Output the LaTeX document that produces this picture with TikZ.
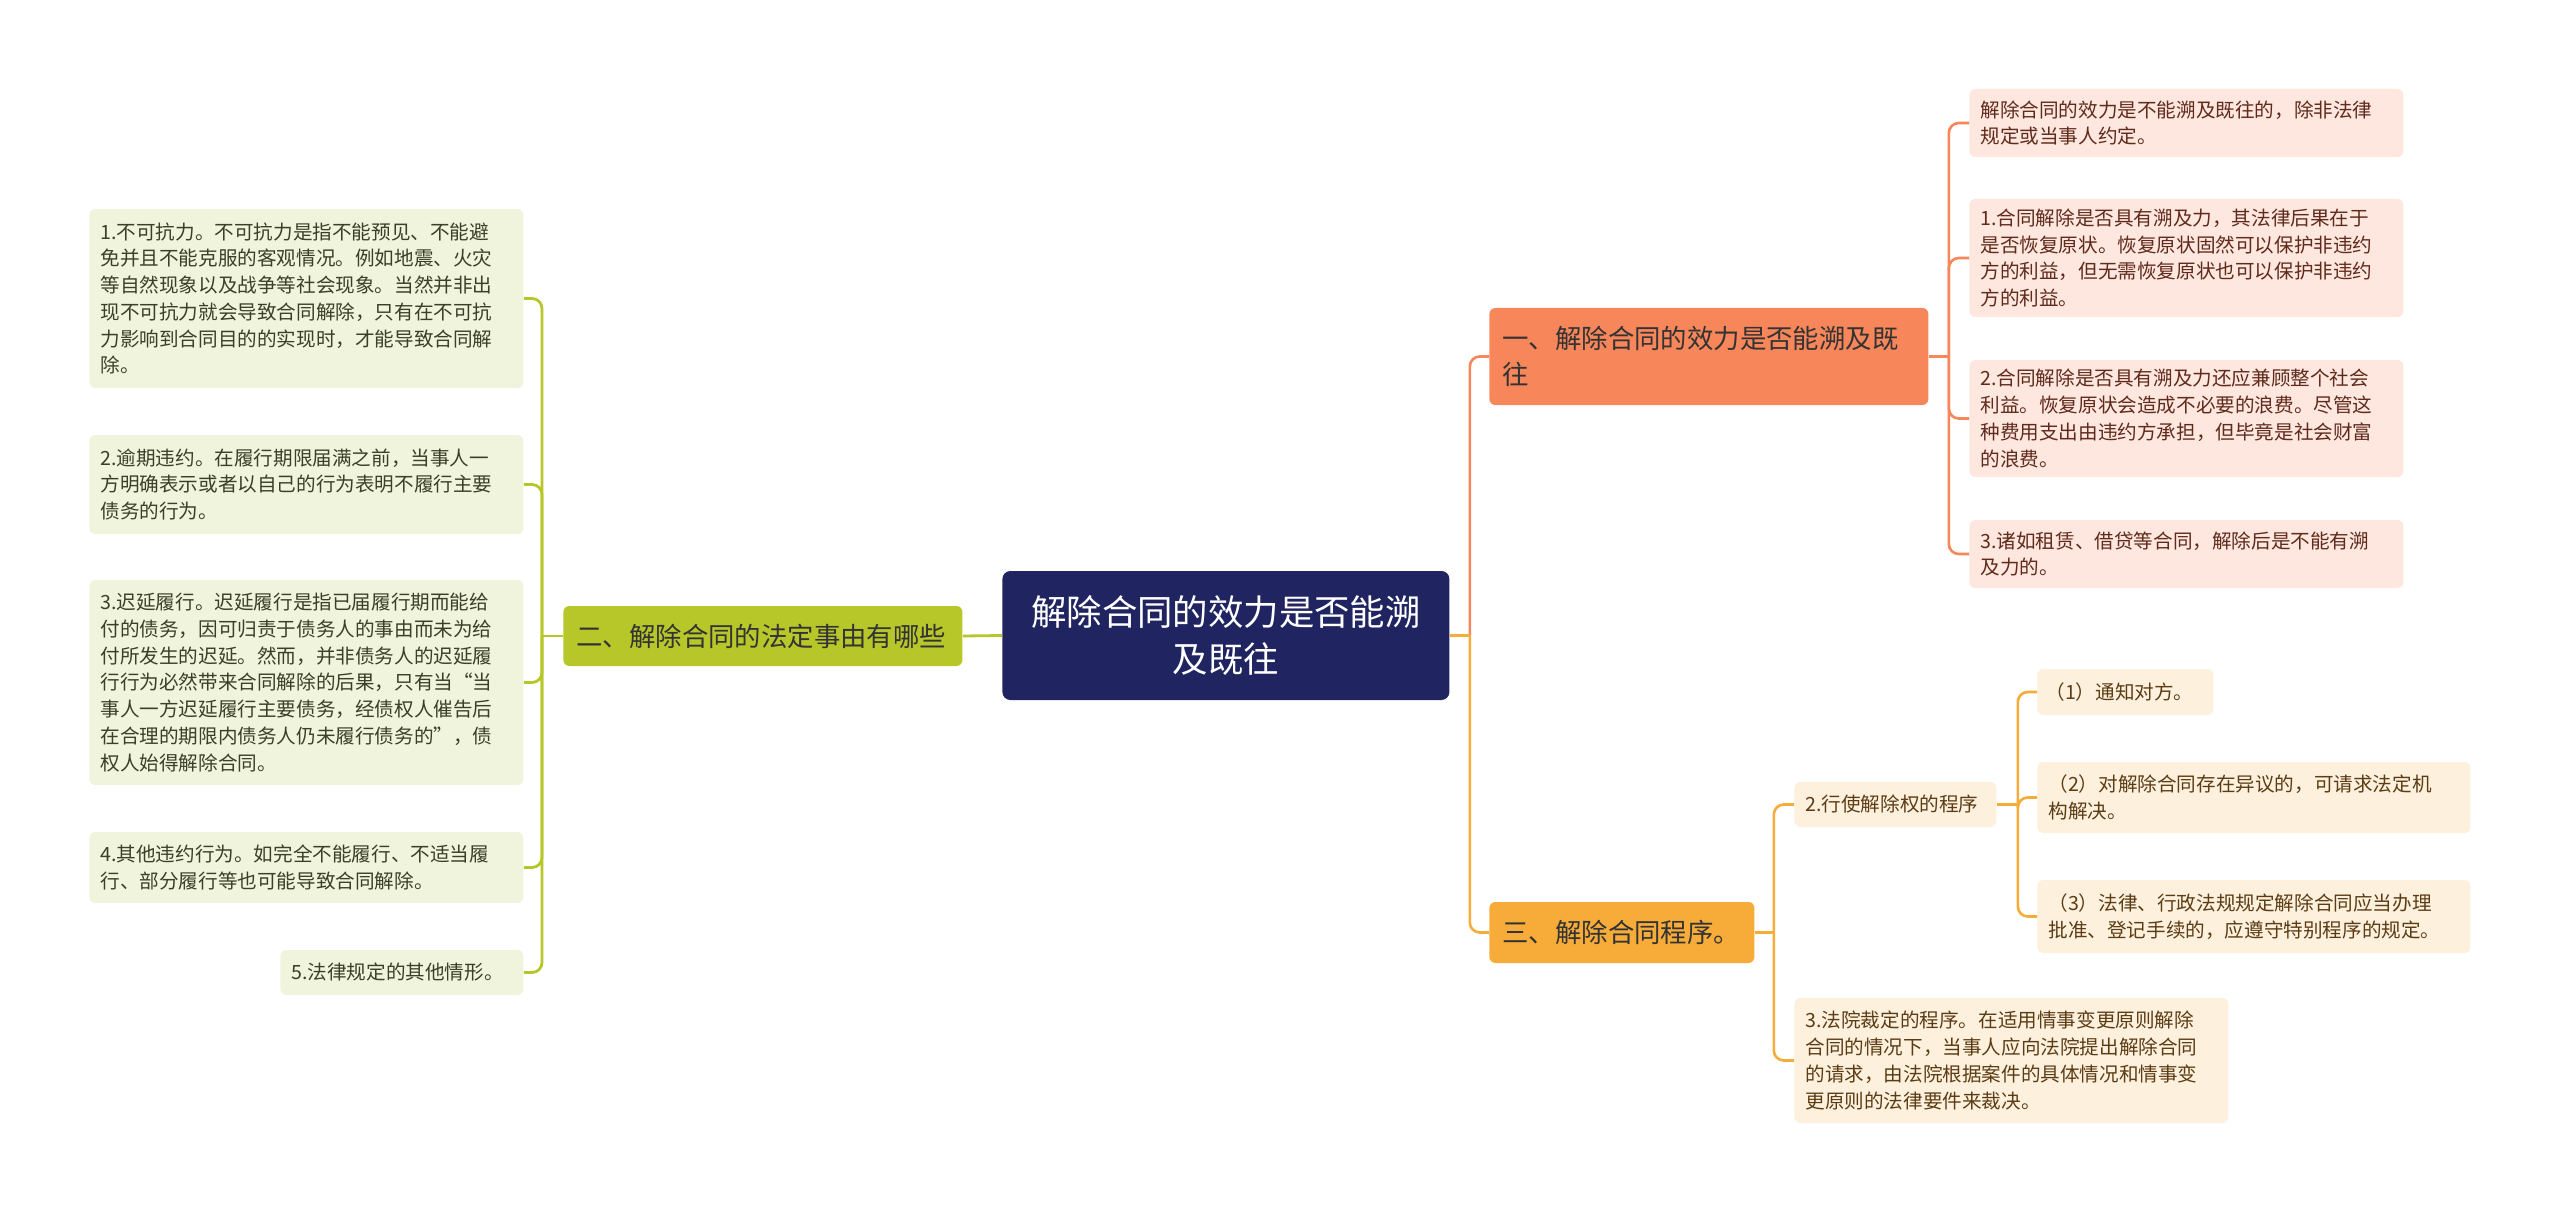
\documentclass[tikz,border=0pt]{standalone}
\usepackage{fontspec}
\setmainfont{Noto Sans CJK SC}
\usepackage{tikz}
\usetikzlibrary{calc,positioning}
\definecolor{navyR}{RGB}{32,37,97}
\definecolor{greenB}{RGB}{183,199,42}
\definecolor{greenL}{RGB}{240,244,220}
\definecolor{orangeB}{RGB}{247,134,90}
\definecolor{orangeL}{RGB}{253,231,222}
\definecolor{yellowB}{RGB}{247,172,58}
\definecolor{yellowL}{RGB}{253,241,222}
\definecolor{textG}{RGB}{60,62,40}
\definecolor{textO}{RGB}{96,42,28}
\definecolor{textY}{RGB}{92,60,20}

\begin{document}
\begin{tikzpicture}[x=0.5pt,y=-0.5pt,
  box/.style={anchor=west,rounded corners=3pt,inner xsep=5.5pt,inner ysep=3pt,align=left,
    font=\fontsize{9.8pt}{13.35pt}\selectfont},
  leafG/.style={box,fill=greenL,text=textG},
  leafO/.style={box,fill=orangeL,text=textO},
  leafY/.style={box,fill=yellowL,text=textY},
  branch/.style={anchor=west,rounded corners=3pt,inner xsep=6.5pt,inner ysep=3pt,align=left,
    text=black!80,font=\fontsize{13.2pt}{18pt}\selectfont},
  linkG/.style={draw=greenB,line width=1.4pt},
  linkO/.style={draw=orangeB,line width=1.3pt},
  linkY/.style={draw=yellowB,line width=1.3pt}]
\useasboundingbox (0,0) rectangle (2560,1214);
\fill[white] (0,0) rectangle (2560,1214);

\node[anchor=west,fill=navyR,text=white,rounded corners=4pt,inner xsep=8pt,align=center,
  text width=207.5pt,minimum height=64.5pt,font=\fontsize{17.7pt}{23.5pt}\selectfont]
  (root) at (1002,635.5) {解除合同的效力是否能溯\\及既往};

\node[branch,fill=orangeB,text width=206.5pt,minimum height=48.5pt] (one) at (1489,356.5)
  {一、解除合同的效力是否能溯及既\\往};
\node[branch,fill=greenB,text width=186.5pt,minimum height=30pt] (two) at (563,636)
  {二、解除合同的法定事由有哪些};
\node[branch,fill=yellowB,text width=119.5pt,minimum height=30.5pt] (three) at (1489,932.5)
  {三、解除合同程序。};

\node[leafG,text width=206pt,minimum height=89.5pt] (l1) at (89,298.5)
  {1.不可抗力。不可抗力是指不能预见、不能避\\免并且不能克服的客观情况。例如地震、火灾\\等自然现象以及战争等社会现象。当然并非出\\现不可抗力就会导致合同解除，只有在不可抗\\力影响到合同目的的实现时，才能导致合同解\\除。};
\node[leafG,text width=206pt,minimum height=49.5pt] (l2) at (89,484.5)
  {2.逾期违约。在履行期限届满之前，当事人一\\方明确表示或者以自己的行为表明不履行主要\\债务的行为。};
\node[leafG,text width=206pt,minimum height=102.5pt] (l3) at (89,682.5)
  {3.迟延履行。迟延履行是指已届履行期而能给\\付的债务，因可归责于债务人的事由而未为给\\付所发生的迟延。然而，并非债务人的迟延履\\行行为必然带来合同解除的后果，只有当“当\\事人一方迟延履行主要债务，经债权人催告后\\在合理的期限内债务人仍未履行债务的”，债\\权人始得解除合同。};
\node[leafG,text width=206pt,minimum height=35.5pt] (l4) at (89,867.5)
  {4.其他违约行为。如完全不能履行、不适当履\\行、部分履行等也可能导致合同解除。};
\node[leafG,text width=110.5pt,minimum height=22.5pt] (l5) at (280,972.5)
  {5.法律规定的其他情形。};

\node[leafO,text width=206pt,minimum height=34pt] (r1) at (1969,123)
  {解除合同的效力是不能溯及既往的，除非法律\\规定或当事人约定。};
\node[leafO,text width=206pt,minimum height=59pt] (r2) at (1969,258)
  {1.合同解除是否具有溯及力，其法律后果在于\\是否恢复原状。恢复原状固然可以保护非违约\\方的利益，但无需恢复原状也可以保护非违约\\方的利益。};
\node[leafO,text width=206pt,minimum height=58.5pt] (r3) at (1969,418.5)
  {2.合同解除是否具有溯及力还应兼顾整个社会\\利益。恢复原状会造成不必要的浪费。尽管这\\种费用支出由违约方承担，但毕竟是社会财富\\的浪费。};
\node[leafO,text width=206pt,minimum height=34pt] (r4) at (1969,554)
  {3.诸如租赁、借贷等合同，解除后是不能有溯\\及力的。};

\node[leafY,text width=90pt,minimum height=22.5pt] (s1) at (1794,804.5)
  {2.行使解除权的程序};
\node[leafY,text width=206pt,minimum height=62.5pt] (s2) at (1794,1060.5)
  {3.法院裁定的程序。在适用情事变更原则解除\\合同的情况下，当事人应向法院提出解除合同\\的请求，由法院根据案件的具体情况和情事变\\更原则的法律要件来裁决。};
\node[leafY,inner xsep=4pt,text width=80pt,minimum height=23pt] (t1) at (2037,692)
  {（1）通知对方。};
\node[leafY,text width=205.5pt,minimum height=35.5pt] (t2) at (2037,797.5)
  {（2）对解除合同存在异议的，可请求法定机\\构解决。};
\node[leafY,text width=205.5pt,minimum height=36.5pt] (t3) at (2037,916.5)
  {（3）法律、行政法规规定解除合同应当办理\\批准、登记手续的，应遵守特别程序的规定。};

\coordinate (jL) at ($(two.west)+(-21,0)$);
\coordinate (jR) at ($(root.east)+(20,0)$);
\coordinate (jA) at ($(one.east)+(20,0)$);
\coordinate (jB) at ($(three.east)+(19,0)$);
\coordinate (jC) at ($(s1.east)+(21,0)$);

\draw[linkG] (root.west) -- (two.east);
\draw[linkG] (two.west) -- (jL);
\foreach \n in {l1,l2,l3,l4,l5}
  \draw[linkG,rounded corners=5pt] (jL) |- (\n.east);

\draw[linkO,rounded corners=5pt] (jR) |- (one.west);
\draw[linkY,rounded corners=5pt] (jR) |- (three.west);
\draw[linkY] (root.east) -- (jR);

\draw[linkO] (one.east) -- (jA);
\foreach \n in {r1,r2,r3,r4}
  \draw[linkO,rounded corners=5pt] (jA) |- (\n.west);

\draw[linkY] (three.east) -- (jB);
\foreach \n in {s1,s2}
  \draw[linkY,rounded corners=5pt] (jB) |- (\n.west);

\draw[linkY] (s1.east) -- (jC);
\foreach \n in {t1,t2,t3}
  \draw[linkY,rounded corners=5pt] (jC) |- (\n.west);
\end{tikzpicture}
\end{document}
